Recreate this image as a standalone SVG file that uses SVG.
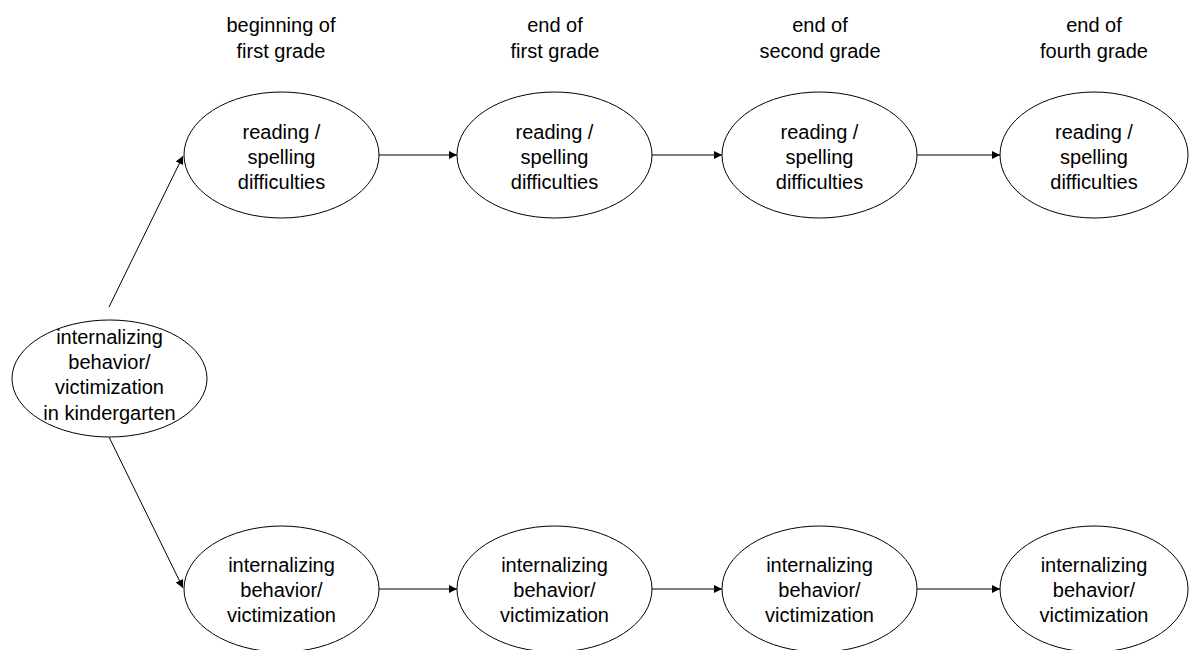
<svg xmlns="http://www.w3.org/2000/svg" width="1189" height="650" viewBox="0 0 1189 650">
  <style>
    .node ellipse { fill: #ffffff; stroke: #000000; stroke-width: 1; }
    text { font-family: "Liberation Sans", Arial, sans-serif; font-size: 20px; fill: #000000; text-anchor: middle; }
    .conn line { stroke: #000000; stroke-width: 1; marker-end: url(#arrow); }
  </style>
  <defs>
    <marker id="arrow" viewBox="0 0 10 10" refX="10" refY="5" markerWidth="10" markerHeight="8" markerUnits="userSpaceOnUse" orient="auto">
      <path d="M0,0 L10,5 L0,10 z" fill="#000000"/>
    </marker>
  </defs>
  <rect width="1189" height="650" fill="#ffffff"/>

  <!-- time point headers -->
  <g id="headers">
    <text x="281" y="32">beginning of</text>
    <text x="281" y="58">first grade</text>
    <text x="555" y="32">end of</text>
    <text x="555" y="58">first grade</text>
    <text x="820" y="32">end of</text>
    <text x="820" y="58">second grade</text>
    <text x="1094" y="32">end of</text>
    <text x="1094" y="58">fourth grade</text>
  </g>

  <!-- connectors -->
  <g id="connectors" class="conn">
    <line x1="109" y1="307" x2="183" y2="156"/>
    <line x1="109" y1="437" x2="183" y2="588"/>
    <line x1="379" y1="155" x2="457" y2="155"/>
    <line x1="652" y1="155" x2="722" y2="155"/>
    <line x1="917" y1="155" x2="1000" y2="155"/>
    <line x1="379" y1="589" x2="457" y2="589"/>
    <line x1="652" y1="589" x2="722" y2="589"/>
    <line x1="917" y1="589" x2="1000" y2="589"/>
  </g>

  <!-- kindergarten predictor -->
  <g id="kindergarten" class="node">
    <ellipse cx="109.5" cy="378.5" rx="97.5" ry="58.5"/>
    <text x="109.5" y="344">internalizing</text>
    <text x="109.5" y="369">behavior/</text>
    <text x="109.5" y="394">victimization</text>
    <text x="109.5" y="420">in kindergarten</text>
  </g>

  <!-- reading / spelling difficulties row -->
  <g id="reading1" class="node">
    <ellipse cx="281.5" cy="155" rx="97.5" ry="63"/>
    <text x="281.5" y="139">reading /</text>
    <text x="281.5" y="164">spelling</text>
    <text x="281.5" y="189">difficulties</text>
  </g>
  <g id="reading2" class="node">
    <ellipse cx="554.5" cy="155" rx="97.5" ry="63"/>
    <text x="554.5" y="139">reading /</text>
    <text x="554.5" y="164">spelling</text>
    <text x="554.5" y="189">difficulties</text>
  </g>
  <g id="reading3" class="node">
    <ellipse cx="819.5" cy="155" rx="97.5" ry="63"/>
    <text x="819.5" y="139">reading /</text>
    <text x="819.5" y="164">spelling</text>
    <text x="819.5" y="189">difficulties</text>
  </g>
  <g id="reading4" class="node">
    <ellipse cx="1094" cy="155" rx="94" ry="63"/>
    <text x="1094" y="139">reading /</text>
    <text x="1094" y="164">spelling</text>
    <text x="1094" y="189">difficulties</text>
  </g>

  <!-- internalizing behavior / victimization row -->
  <g id="internal1" class="node">
    <ellipse cx="281.5" cy="589" rx="97.5" ry="63"/>
    <text x="281.5" y="572">internalizing</text>
    <text x="281.5" y="597">behavior/</text>
    <text x="281.5" y="622">victimization</text>
  </g>
  <g id="internal2" class="node">
    <ellipse cx="554.5" cy="589" rx="97.5" ry="63"/>
    <text x="554.5" y="572">internalizing</text>
    <text x="554.5" y="597">behavior/</text>
    <text x="554.5" y="622">victimization</text>
  </g>
  <g id="internal3" class="node">
    <ellipse cx="819.5" cy="589" rx="97.5" ry="63"/>
    <text x="819.5" y="572">internalizing</text>
    <text x="819.5" y="597">behavior/</text>
    <text x="819.5" y="622">victimization</text>
  </g>
  <g id="internal4" class="node">
    <ellipse cx="1094" cy="589" rx="94" ry="63"/>
    <text x="1094" y="572">internalizing</text>
    <text x="1094" y="597">behavior/</text>
    <text x="1094" y="622">victimization</text>
  </g>
</svg>
